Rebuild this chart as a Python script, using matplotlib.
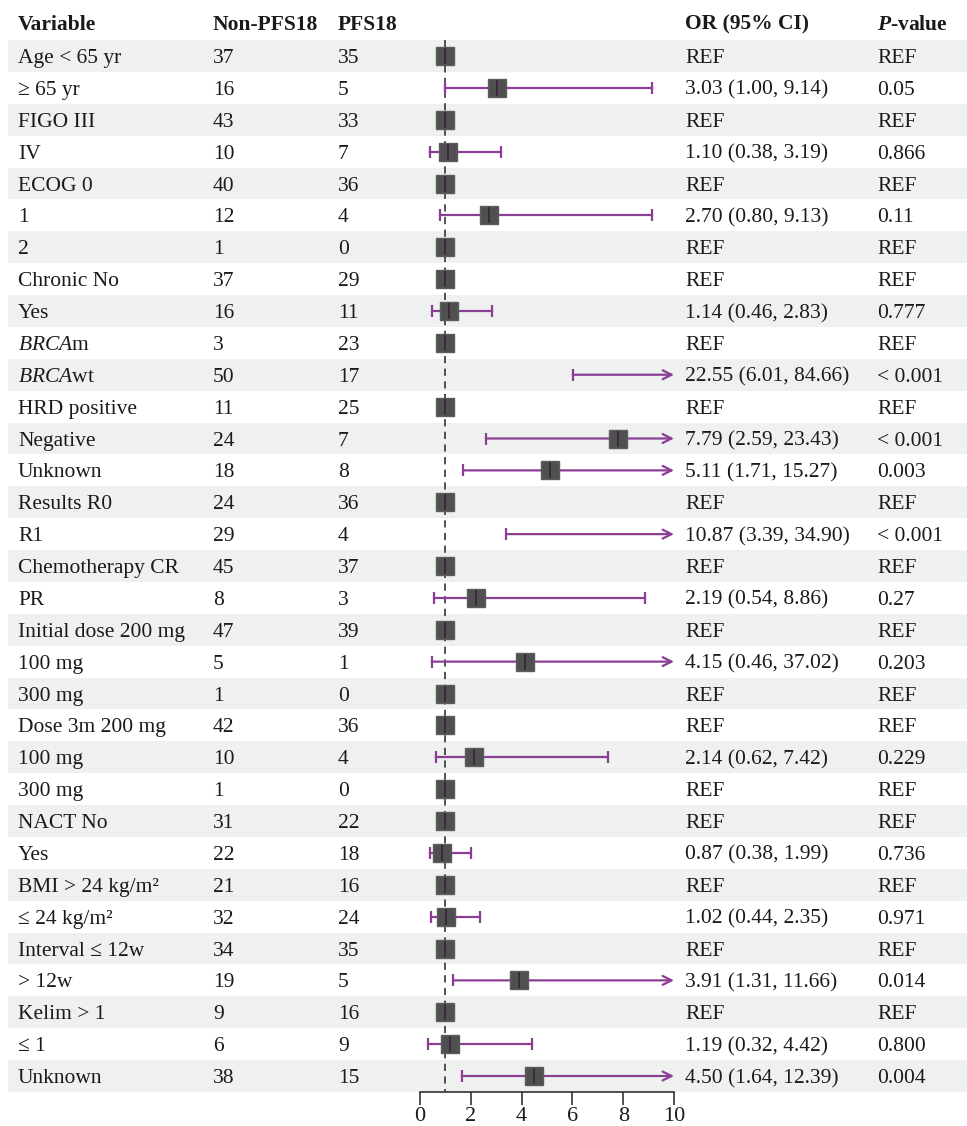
import matplotlib
matplotlib.use("Agg")
from matplotlib import pyplot as plt

plt.rcParams["font.family"] = ["Liberation Serif", "DejaVu Serif"]
plt.rcParams["mathtext.fontset"] = "custom"
plt.rcParams["mathtext.rm"] = "Liberation Serif"
plt.rcParams["mathtext.it"] = "Liberation Serif:italic"
plt.rcParams["mathtext.bf"] = "Liberation Serif:bold"
plt.rcParams["mathtext.bfit"] = "Liberation Serif:italic:bold"

variables = ["Age < 65 yr", "≥ 65 yr", "FIGO III", "IV", "ECOG 0", "1", "2",
             "Chronic No", "Yes", r"$\mathit{BRCA}$m", r"$\mathit{BRCA}$wt",
             "HRD positive", "Negative", "Unknown", "Results R0", "R1",
             "Chemotherapy CR", "PR", "Initial dose 200 mg", "100 mg", "300 mg",
             "Dose 3m 200 mg", "100 mg", "300 mg", "NACT No", "Yes",
             "BMI > 24 kg/m²", "≤ 24 kg/m²", "Interval ≤ 12w", "> 12w",
             "Kelim > 1", "≤ 1", "Unknown"]
non_pfs18 = [37, 16, 43, 10, 40, 12, 1, 37, 16, 3, 50, 11, 24, 18, 24, 29, 45,
             8, 47, 5, 1, 42, 10, 1, 31, 22, 21, 32, 34, 19, 9, 6, 38]
pfs18 = [35, 5, 33, 7, 36, 4, 0, 29, 11, 23, 17, 25, 7, 8, 36, 4, 37, 3, 39,
         1, 0, 36, 4, 0, 22, 18, 16, 24, 35, 5, 16, 9, 15]
# None marks the reference level
odds = [None, 3.03, None, 1.10, None, 2.70, None, None, 1.14, None, 22.55,
        None, 7.79, 5.11, None, 10.87, None, 2.19, None, 4.15, None, None,
        2.14, None, None, 0.87, None, 1.02, None, 3.91, None, 1.19, 4.50]
ci_low = [None, 1.00, None, 0.38, None, 0.80, None, None, 0.46, None, 6.01,
          None, 2.59, 1.71, None, 3.39, None, 0.54, None, 0.46, None, None,
          0.62, None, None, 0.38, None, 0.44, None, 1.31, None, 0.32, 1.64]
ci_high = [None, 9.14, None, 3.19, None, 9.13, None, None, 2.83, None, 84.66,
           None, 23.43, 15.27, None, 34.90, None, 8.86, None, 37.02, None, None,
           7.42, None, None, 1.99, None, 2.35, None, 11.66, None, 4.42, 12.39]
p_values = ["REF", "0.05", "REF", "0.866", "REF", "0.11", "REF", "REF", "0.777",
            "REF", "< 0.001", "REF", "< 0.001", "0.003", "REF", "< 0.001", "REF",
            "0.27", "REF", "0.203", "REF", "REF", "0.229", "REF", "REF", "0.736",
            "REF", "0.971", "REF", "0.014", "REF", "0.800", "0.004"]
x_ticks = [0, 2, 4, 6, 8, 10]

W, H = 967, 1126
row_h = 31.875
y0 = 56
ylim = ((H - y0) / row_h, -y0 / row_h)
n = len(variables)

shade = "#eef1f0"
txt = "#1a1a1a"
purple = "#8b3f94"
fs = 15.5
base = 0.22  # baseline offset below row centre

fig = plt.figure(figsize=(W / 100, H / 100), dpi=100)

# table layer
ax = fig.add_axes([0, 0, 1, 1])
ax.set_xlim(0, W)
ax.set_ylim(*ylim)
ax.axis("off")

for i in range(0, n, 2):
    ax.barh(i, W - 8, left=8, height=1, color=shade, zorder=0)

head_y = -0.83
hd = dict(fontsize=fs, fontweight="bold", va="baseline", color=txt)
ax.text(18, head_y, "Variable", **hd)
ax.text(213, head_y, "Non-PFS18", **hd)
ax.text(338, head_y, "PFS18", **hd)
ax.text(685, head_y, "OR (95% CI)", **hd)
ax.text(877, head_y, r"$\mathbfit{P}$-value", **hd)

for i in range(n):
    y = i + base
    ax.text(18, y, variables[i], fontsize=fs, va="baseline", color=txt)
    ax.text(213, y, str(non_pfs18[i]), fontsize=fs, va="baseline", color=txt)
    ax.text(338, y, str(pfs18[i]), fontsize=fs, va="baseline", color=txt)
    if odds[i] is None:
        or_text = "REF"
    else:
        or_text = f"{odds[i]:.2f} ({ci_low[i]:.2f}, {ci_high[i]:.2f})"
    ax.text(685, y, or_text, fontsize=fs, va="baseline", color=txt)
    ax.text(877, y, p_values[i], fontsize=fs, va="baseline", color=txt)

# forest layer
fax = fig.add_axes([420 / W, 0, 254 / W, 1])
fax.patch.set_visible(False)
fax.set_xlim(0, 10)
fax.set_ylim(*ylim)
for side in ["left", "top", "right"]:
    fax.spines[side].set_visible(False)
fax.spines["bottom"].set_position(("data", n - 0.5))
fax.spines["bottom"].set_color("#333333")
fax.spines["bottom"].set_linewidth(1.2)
fax.set_yticks([])
fax.set_xticks(x_ticks)
fax.tick_params(axis="x", direction="out", length=9, width=1.2, color="#333333",
                labelsize=16, labelcolor=txt, pad=2)

fax.plot([1, 1], [-0.5, n - 0.5], color="#444444", lw=1.3, ls=(0, (4, 3)), zorder=2)

for i in range(n):
    if odds[i] is None:
        est = 1
    else:
        est = odds[i]
        hi = min(ci_high[i], 10)
        if ci_high[i] > 10:
            fax.annotate("", xy=(10, i), xytext=(ci_low[i], i),
                         arrowprops=dict(arrowstyle="->", color=purple, lw=1.6,
                                         mutation_scale=16, shrinkA=0, shrinkB=0),
                         annotation_clip=False, zorder=3)
            fax.plot([ci_low[i]], [i], marker="|", ms=9, mew=1.6, color=purple,
                     clip_on=False, zorder=3)
        else:
            fax.plot([ci_low[i], hi], [i, i], color=purple, lw=1.6, marker="|",
                     ms=9, mew=1.6, clip_on=False, zorder=3)
    if est <= 10:
        fax.plot([est], [i], marker="s", ms=12.5, color="#505050", mec="#5c5c5c",
                 clip_on=False, zorder=4)
        fax.plot([est], [i], marker="|", ms=12, mew=1.2, color="#3b2140",
                 clip_on=False, zorder=5)

fig.savefig("out.png", dpi=100)
